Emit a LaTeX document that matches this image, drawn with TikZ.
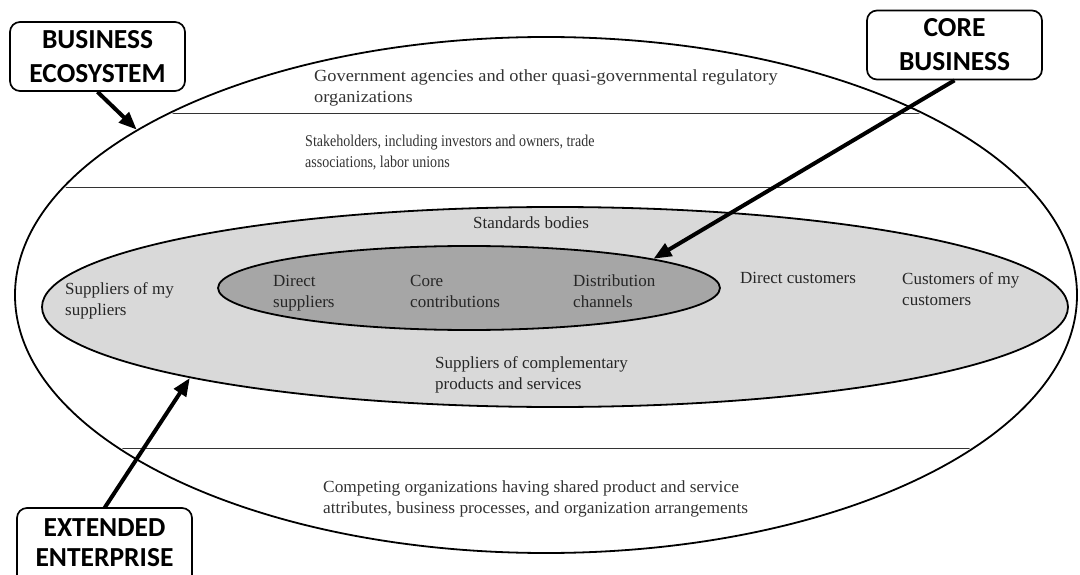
\documentclass[tikz,border=0pt]{standalone}
\usepackage{graphicx}
\usepackage{fontspec}
\setmainfont{Liberation Serif}
\newfontfamily\boxfont{Carlito}
\usetikzlibrary{shapes.geometric,arrows.meta}
\newcommand\myhs[2]{\scalebox{#1}[1]{#2}}
\begin{document}
\begin{tikzpicture}[x=1pt,y=-1pt,
  txt/.style={anchor=north west, align=left, inner sep=0pt, font=\fontsize{17}{21}\selectfont, text=black!85},
  frame/.style={draw=black, line width=1.7pt, rounded corners=10pt, fill=white},
  lbl/.style={frame, minimum width=175pt, minimum height=69pt, align=center, inner sep=0pt, font=\boxfont\bfseries\fontsize{27.5}{34}\selectfont},
  bigarrow/.style={line width=4pt, -{Triangle[length=18pt,width=14pt]}},
  ell/.style={ellipse, draw=black, line width=1.8pt, inner sep=0pt},
  divider/.style={line width=0.9pt, draw=black!80}
]
\useasboundingbox (0,0) rectangle (1080,575);
% outer ellipse: business ecosystem
\node[ell, fill=white, minimum width=1062pt, minimum height=516pt] (eco) at (546,295) {};
\begin{scope}
  \clip (546,295) ellipse [x radius=529, y radius=256];
  \draw[divider] (0,113) -- (1080,113);
  \draw[divider] (0,187) -- (1080,187);
  \draw[divider] (0,448) -- (1080,448);
\end{scope}
% extended enterprise
\node[ell, fill=black!15, minimum width=1026pt, minimum height=200pt] (ext) at (555,307) {};
% core business
\node[ell, fill=black!35, minimum width=502pt, minimum height=84pt] (core) at (469,288) {};

% texts
\node[txt, text=black!80] (gov) at (314,70) {\myhs{1.08}{Government agencies and other quasi-governmental regulatory}\\\myhs{1.08}{organizations}};
\node[txt, text=black!80, font=\fontsize{16.5}{21}\selectfont] (stk) at (305,135) {\myhs{0.85}{Stakeholders, including investors and owners, trade}\\\myhs{0.85}{associations, labor unions}};
\node[txt] (std) at (473,217) {Standards bodies};
\node[txt] (som) at (65,282) {Suppliers of my\\suppliers};
\node[txt] (dsu) at (273,275) {Direct\\suppliers};
\node[txt] (cco) at (410,275) {Core\\contributions};
\node[txt] (dch) at (573,275) {Distribution\\channels};
\node[txt] (dcu) at (740,272) {Direct customers};
\node[txt] (com) at (902,272) {Customers of my\\customers};
\node[txt] (scp) at (435,356) {Suppliers of complementary\\products and services};
\node[txt, text=black!80] (cmp) at (323,481) {\myhs{1.02}{Competing organizations having shared product and service}\\\myhs{1.02}{attributes, business processes, and organization arrangements}};

% label boxes
\node[lbl] (be) at (97.5,56.5) {BUSINESS\\ECOSYSTEM};
\node[lbl] (cb) at (954.5,45) {CORE\\BUSINESS};
% extended enterprise box runs past the lower edge of the picture
\draw[frame] (17,508) rectangle (192,592);
\coordinate (eetop) at (104.5,508);
\node[align=center, inner sep=0pt, font=\boxfont\bfseries\fontsize{27.5}{30}\selectfont] (ee) at (104.5,543) {EXTENDED\\ENTERPRISE};

% arrows
\draw[bigarrow] (be.south) -- (eco.158.8);
\draw[bigarrow] (cb.south) -- (core.9.4);
\draw[bigarrow] (eetop) -- (ext.191.7);
\end{tikzpicture}
\end{document}
